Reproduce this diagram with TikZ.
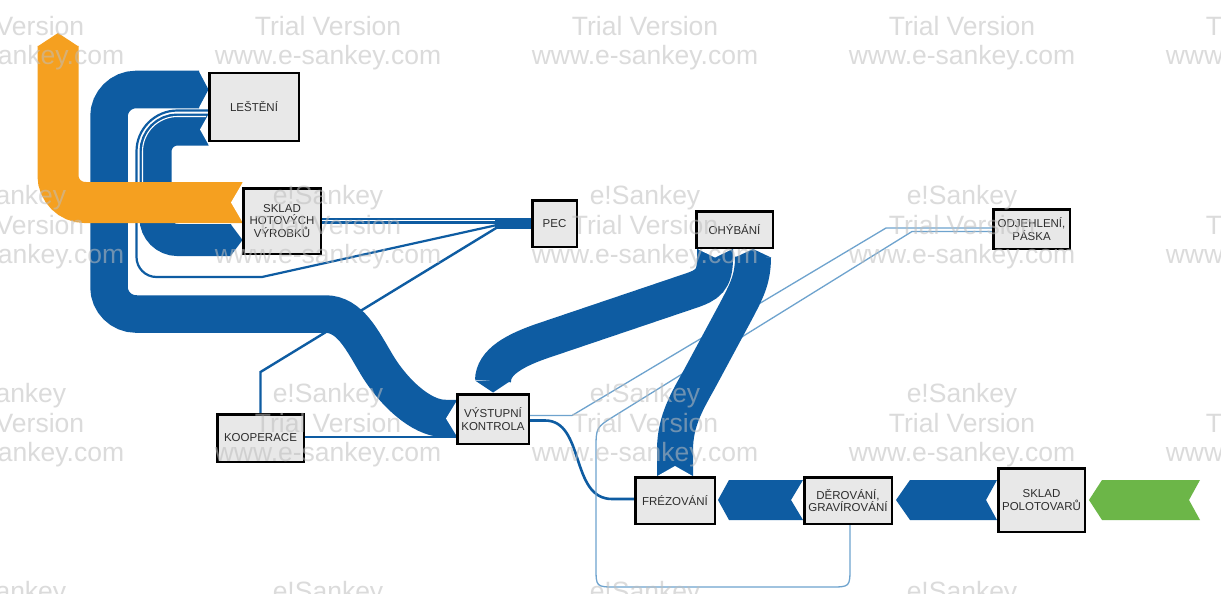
\documentclass[tikz,border=0pt]{standalone}
\usepackage{fontspec}
\setmainfont{Liberation Sans}
\pgfdeclarelayer{paper}
\pgfdeclarelayer{flows}
\pgfdeclarelayer{marks}
\pgfsetlayers{paper,flows,main,marks}
\definecolor{sblue}{RGB}{14,92,162}
\definecolor{sorange}{RGB}{245,160,32}
\definecolor{sgreen}{RGB}{108,182,72}
\definecolor{slight}{RGB}{110,163,206}
\definecolor{boxfill}{RGB}{232,232,232}
\definecolor{boxtext}{RGB}{45,45,45}
\definecolor{wmark}{RGB}{190,190,190}
\begin{document}
\begin{tikzpicture}[x=1pt,y=-1pt,
  proc/.style={draw=black, line width=2.5pt, fill=boxfill, text=boxtext,
    font=\fontsize{11.5}{12.8}\selectfont, align=center, inner sep=0pt},
  band/.style={draw=sblue, line cap=butt},
  thinflow/.style={draw=sblue, line width=2.4pt},
  lightflow/.style={draw=slight, line width=1.3pt},
  wm/.style={text=wmark, text opacity=0.55, font=\fontsize{26.5}{26.5}\selectfont,
    anchor=base, inner sep=0pt}
]
\useasboundingbox (0,0) rectangle (1221,594);
\begin{pgfonlayer}{paper}
\fill[white] (0,0) rectangle (1221,594);
\end{pgfonlayer}

% ---------- process boxes ----------
\node[proc, minimum width=89.5pt, minimum height=67.5pt] (lest) at (254,107) {LEŠTĚNÍ};
\node[proc, minimum width=77.5pt, minimum height=65.5pt] (shv) at (282,221) {SKLAD\\HOTOVÝCH\\VÝROBKŮ};
\node[proc, minimum width=44.5pt, minimum height=46.5pt] (pec) at (554.5,223.5) {PEC};
\node[proc, minimum width=76.5pt, minimum height=36.5pt] (ohy) at (734.5,229.5) {OHÝBÁNÍ};
\node[proc, minimum width=76.5pt, minimum height=39.5pt] (odj) at (1031.5,229) {ODJEHLENÍ,\\PÁSKA};
\node[proc, minimum width=71.5pt, minimum height=49.5pt] (vk) at (493,419) {VÝSTUPNÍ\\KONTROLA};
\node[proc, minimum width=86.5pt, minimum height=47.5pt] (koop) at (260.5,438) {KOOPERACE};
\node[proc, minimum width=79.5pt, minimum height=46.5pt] (frez) at (675,500.5) {FRÉZOVÁNÍ};
\node[proc, minimum width=87.5pt, minimum height=46.5pt] (der) at (848,500.5) {DĚROVÁNÍ,\\GRAVÍROVÁNÍ};
\node[proc, minimum width=86.5pt, minimum height=63.5pt] (spol) at (1041.5,500) {SKLAD\\POLOTOVARŮ};

\begin{pgfonlayer}{flows}
% ---------- thin flows ----------
% LESTENI -> PEC (around inner C)
\draw[thinflow, line width=2.2pt] (lest.west |- 0,110.5) -- (177.5,110.5)
  .. controls (154.9,110.5) and (136.5,128.9) .. (136.5,151.5) -- (136.5,257)
  .. controls (136.5,268.05) and (145.45,277) .. (156.5,277) -- (262,277)
  -- (497,225) -- (pec.west |- 0,225);
% KOOPERACE -> PEC
\draw[thinflow] (koop.north) -- (260.5,372) -- (497,227.5) -- (pec.west |- 0,227.5);
% SKLAD HOTOVYCH -> PEC (double)
\draw[thinflow, line width=2.6pt] (shv.east |- 0,219) -- (pec.west |- 0,219);
\draw[thinflow, line width=2.6pt] (shv.east |- 0,222.6) -- (pec.west |- 0,222.6);
\fill[sblue] (495,217.7) rectangle (531,229);
% KOOPERACE -> VYSTUPNI
\draw[thinflow, line width=2.8pt] (koop.east |- 0,437) -- (vk.west |- 0,437);
% VYSTUPNI -> FREZOVANI
\draw[thinflow, line width=2.6pt] (vk.east |- 0,420.5) -- (545,420.5)
  .. controls (585,420.5) and (570,499) .. (612,499) -- (frez.west |- 0,499);
% light flows
\draw[lightflow] (vk.east |- 0,415.5) -- (572,415.5) -- (886,228) -- (odj.west |- 0,228);
\draw[lightflow] (odj.west |- 0,231.5) -- (912,231.5) -- (614.7,415.8)
  .. controls (596,427.4) .. (596,449.4) -- (596,567)
  .. controls (596,587) .. (616,587) -- (830,587)
  .. controls (850,587) .. (850,567) -- (850,525);

% ---------- thick flows ----------
% VYSTUPNI -> LESTENI (outer C)
\draw[band, line width=37.5pt] (457,418.5) -- (445,418.5)
  .. controls (420,418.5) and (392,390) .. (377,365)
  .. controls (362,340) and (350,314) .. (325,314) -- (136,314)
  .. controls (121.1,314) and (109,301.9) .. (109,287) -- (109,116.5)
  .. controls (109,101.6) and (121.1,89.5) .. (136,89.5) -- (199,89.5);
\fill[sblue] (198.5,70.75) -- (208.5,89.5) -- (198.5,108.25) -- cycle;
\fill[white] (457.5,399.75) -- (446,418.5) -- (457.5,437.25) -- cycle;
% LESTENI -> SKLAD HOTOVYCH (inner C)
\draw[band, line width=32pt] (208.5,129.5) -- (177.5,129.5)
  .. controls (165.35,129.5) and (155.5,139.35) .. (155.5,151.5) -- (155.5,218)
  .. controls (155.5,230.15) and (165.35,240) .. (177.5,240) -- (231,240);
\fill[sblue] (230.5,224) -- (242.5,240) -- (230.5,256) -- cycle;
\fill[white] (209,113.5) -- (200,129.5) -- (209,145.5) -- cycle;
\draw[white, line width=1.1pt] (206,116.5) -- (177.5,116.5)
  .. controls (158.17,116.5) and (142.5,132.17) .. (142.5,151.5) -- (142.5,205);
% OHYBANI -> VYSTUPNI
\draw[band, line width=36pt] (715,249) -- (715,258)
  .. controls (715,280) and (708,285) .. (690,291) -- (545,340)
  .. controls (515,350) and (493,362) .. (493,381);
\fill[sblue] (475,380.5) -- (493,392.5) -- (511,380.5) -- cycle;
\fill[white] (696.5,248.5) -- (715,257.5) -- (733.5,248.5) -- cycle;
% FREZOVANI -> OHYBANI
\draw[band, line width=36pt] (675,476.5) -- (675,450)
  .. controls (675,420) and (688,400) .. (700,378) -- (735,313)
  .. controls (746,292) and (753,280) .. (753,257);
\fill[sblue] (735,257.5) -- (753,249) -- (771,257.5) -- cycle;
\fill[white] (656.5,476.5) -- (675,466) -- (693.5,476.5) -- cycle;
% horizontal chevrons
\fill[sgreen] (1089,500) -- (1102,480) -- (1200,480) -- (1189,500) -- (1200,520) -- (1102,520) -- cycle;
\fill[sblue] (896,500) -- (910,480) -- (997,480) -- (986,500) -- (997,520) -- (910,520) -- cycle;
\fill[sblue] (718,500) -- (729,480) -- (803,480) -- (791,500) -- (803,520) -- (729,520) -- cycle;
% SKLAD HOTOVYCH -> out (orange)
\draw[draw=sorange, line width=41pt, line cap=butt] (242.5,202.5) -- (85,202.5)
  .. controls (70.1,202.5) and (58,190.4) .. (58,175.5) -- (58,46);
\fill[sorange] (37.5,46.5) -- (58,33) -- (78.5,46.5) -- cycle;
\fill[white] (243,182) -- (231,202.5) -- (243,223) -- cycle;
\end{pgfonlayer}

% ---------- watermark ----------
\begin{pgfonlayer}{marks}
\foreach \cx in {11,328,645,962,1279} {
  \foreach \by in {204,402,600} { \node[wm] (wa\cx-\by) at (\cx,\by) {e!Sankey}; }
  \foreach \by in {36,234,432} { \node[wm] (wb\cx-\by) at (\cx,\by) {Trial Version}; }
  \foreach \by in {65,263,461} { \node[wm] (wc\cx-\by) at (\cx,\by) {www.e-sankey.com}; }
}
\end{pgfonlayer}
\end{tikzpicture}
\end{document}
